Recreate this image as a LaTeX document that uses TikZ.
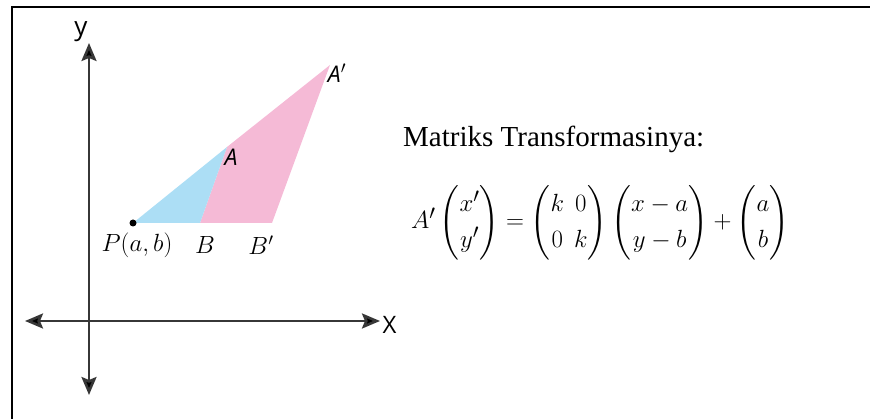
\documentclass[tikz,border=0pt]{standalone}
\usepackage{amsmath}
\usepackage{fontspec}
\setmainfont{Liberation Serif}
\newfontfamily\axfont{Open Sans}
\usetikzlibrary{arrows.meta}
\definecolor{triblue}{RGB}{172,222,245}
\definecolor{tripink}{RGB}{245,186,214}
\definecolor{axisgray}{RGB}{55,55,55}
\tikzset{
  axisline/.style={draw=axisgray,line width=2.6pt,{Stealth[length=18pt,width=15pt,inset=3pt,fill=black]}-{Stealth[length=18pt,width=15pt,inset=3pt,fill=black]}},
  axlabel/.style={font=\axfont\fontsize{26}{30}\selectfont,inner sep=0pt},
  ptlabel/.style={font=\axfont\itshape\fontsize{23}{27}\selectfont,inner sep=0pt},
  mathlabel/.style={font=\fontsize{26}{30}\selectfont,inner sep=0pt},
}
\begin{document}
\begin{tikzpicture}[x=1pt,y=-1pt]
\useasboundingbox (0,0) rectangle (870,419);
% frame
\draw[line width=2pt] (12,419) -- (12,7) -- (870,7);
% axes
\coordinate (xl) at (25,321);
\coordinate (xr) at (380,321);
\coordinate (yt) at (89,43);
\coordinate (yb) at (89,395);
\draw[axisline] (xl) -- (xr);
\draw[axisline] (yb) -- (yt);
\node[axlabel] (ylab) at (81,32) {y};
\node[axlabel,font=\axfont\fontsize{24}{28}\selectfont] (xlab) at (389.5,325) {X};
% triangles
\coordinate (P) at (133,223);
\coordinate (B) at (200,223);
\coordinate (Bp) at (272,223);
\coordinate (A) at (227,147);
\coordinate (Ap) at (330,65);
\fill[tripink] (B) -- (A) -- (Ap) -- (Bp) -- cycle;
\fill[triblue] (P) -- (B) -- (A) -- cycle;
\fill[black] (P) circle (3.5pt);
\node[ptlabel] (Alab) at (231,157.5) {A};
\node[ptlabel] (Aplab) at (337,73) {A$'$};
\node[mathlabel] (Plab) at (137,245) {$P(a,b)$};
\node[mathlabel] (Blab) at (205,245) {$B$};
\node[mathlabel] (Bplab) at (261,245) {$B'$};
% text
\node[anchor=base west,inner sep=0pt,font=\fontsize{29}{34}\selectfont] (title) at (403,147) {Matriks Transformasinya:};
\node[anchor=west,inner sep=0pt,font=\fontsize{28}{33}\selectfont] (eq) at (411,222.5)
 {\renewcommand{\arraystretch}{1.1}$A'\begin{pmatrix}x'\\y'\end{pmatrix}=\begin{pmatrix}k&0\\0&k\end{pmatrix}\begin{pmatrix}x-a\\y-b\end{pmatrix}+\begin{pmatrix}a\\b\end{pmatrix}$};
\end{tikzpicture}
\end{document}
